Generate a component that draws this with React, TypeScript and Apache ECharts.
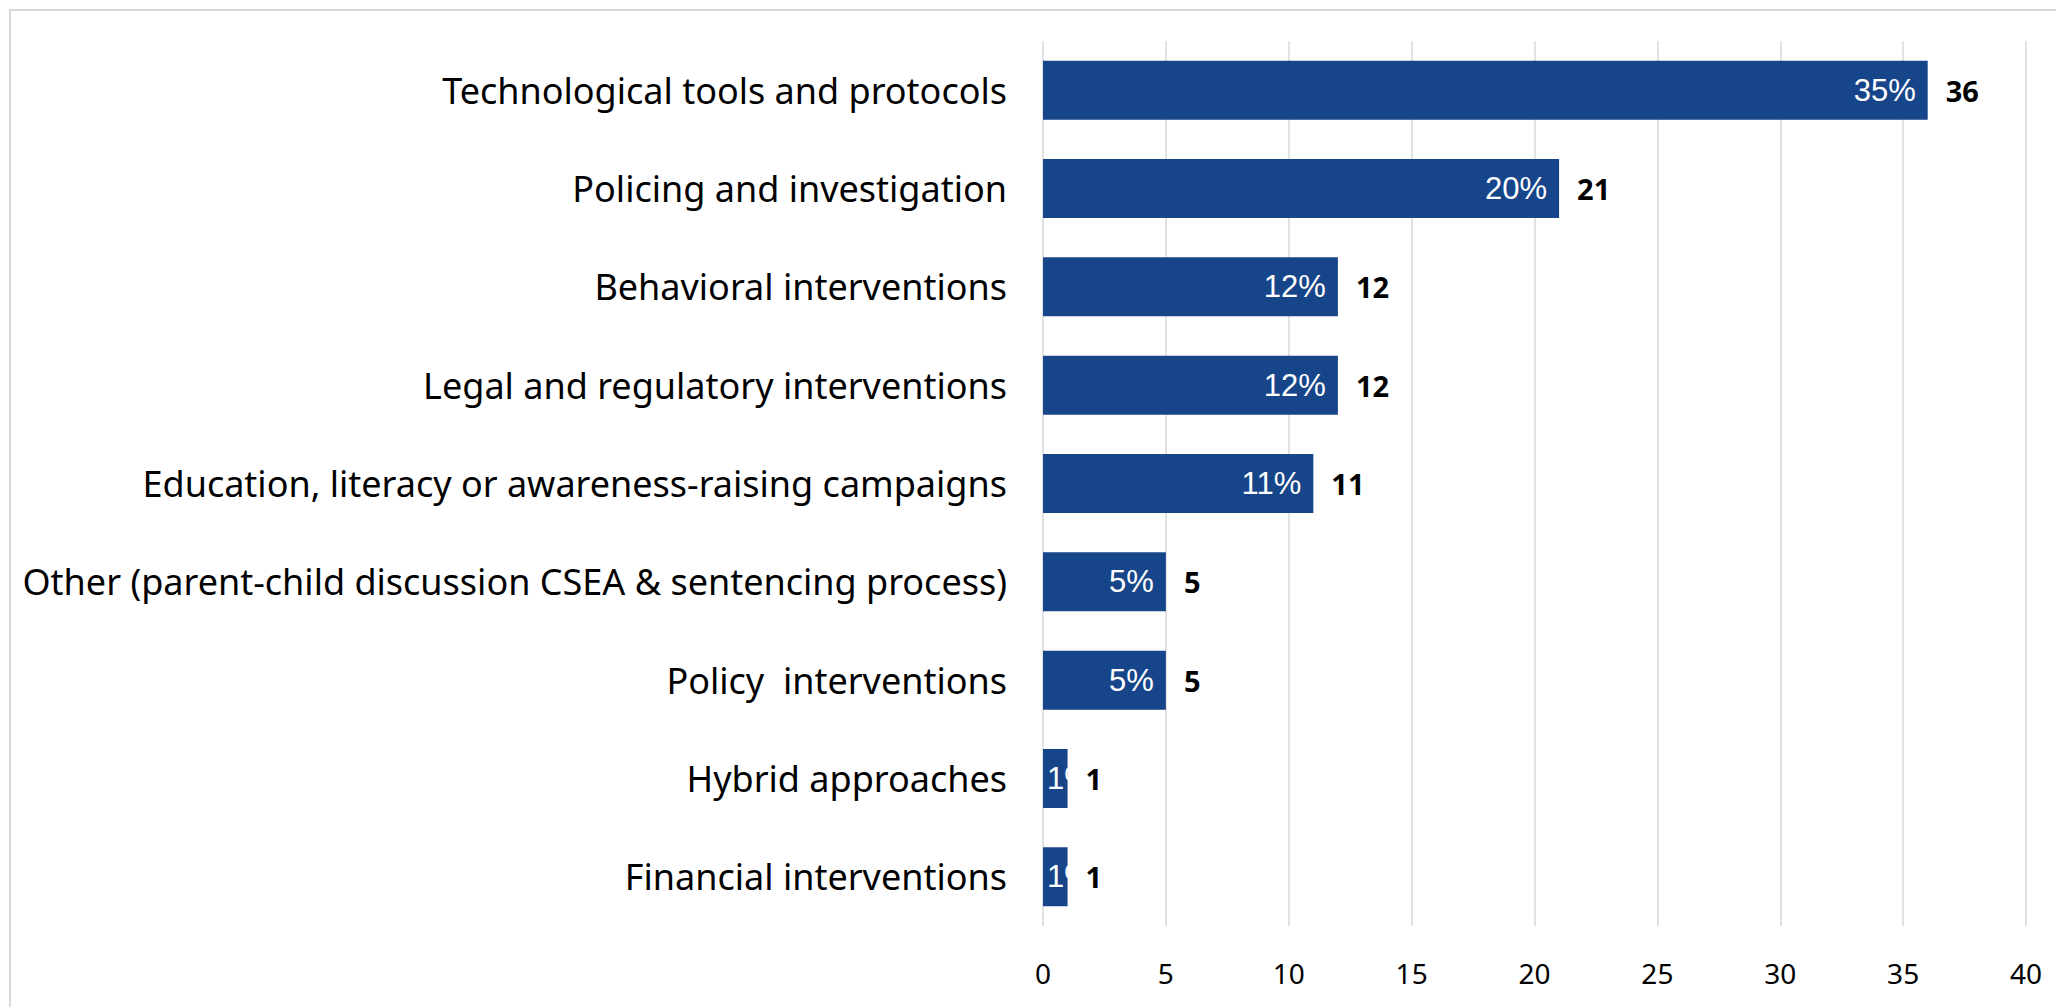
import React, { useEffect, useRef } from "react";
import * as echarts from "echarts";

const categories = [
  "Technological tools and protocols",
  "Policing and investigation",
  "Behavioral interventions",
  "Legal and regulatory interventions",
  "Education, literacy or awareness-raising campaigns",
  "Other (parent-child discussion CSEA & sentencing process)",
  "Policy  interventions",
  "Hybrid approaches",
  "Financial interventions",
];
const counts = [36, 21, 12, 12, 11, 5, 5, 1, 1];
const percents = [35, 20, 12, 12, 11, 5, 5, 1, 1];
const xTicks = [0, 5, 10, 15, 20, 25, 30, 35, 40];

const BAR = "#17458A";
const GRID = "#D9D9D9";
const FONT = "Noto Sans";

export default function App() {
  const ref = useRef<HTMLDivElement>(null);
  useEffect(() => {
    document.body.style.margin = "0";
    const chart = echarts.init(ref.current!, null, { renderer: "svg" });
    chart.setOption({
      animation: false,
      backgroundColor: "#ffffff",
      graphic: [
        {
          type: "rect",
          shape: { x: 10, y: 10, width: 2200, height: 1200 },
          style: { fill: "none", stroke: GRID, lineWidth: 2 },
          silent: true,
        },
      ],
      grid: { left: 1043, right: 30, top: 41, bottom: 81, containLabel: false },
      xAxis: {
        type: "value",
        min: xTicks[0],
        max: xTicks[xTicks.length - 1],
        interval: 5,
        axisLine: { show: false },
        axisTick: { show: false },
        splitLine: { show: true, lineStyle: { color: GRID, width: 1.5 } },
        axisLabel: {
          color: "#000",
          fontFamily: FONT,
          fontSize: 28,
          margin: 33,
        },
      },
      yAxis: {
        type: "category",
        data: categories,
        inverse: true,
        axisLine: { show: false },
        axisTick: { show: false },
        axisLabel: {
          color: "#000",
          fontFamily: FONT,
          fontSize: 36,
          margin: 36,
        },
      },
      series: [
        {
          type: "bar",
          data: percents.map((p, i) => ({
            value: counts[i],
            label:
              counts[i] < 3
                ? { position: "insideLeft", distance: 4 }
                : undefined,
          })),
          barWidth: "60%",
          barGap: "-100%",
          itemStyle: { color: BAR },
          label: {
            show: true,
            position: "insideRight",
            distance: 12,
            color: "#fff",
            fontFamily: "Liberation Sans",
            fontSize: 31,
            formatter: (p: any) => percents[p.dataIndex] + "%",
          },
          z: 2,
        },
        {
          type: "bar",
          data: counts,
          barWidth: "60%",
          barGap: "-100%",
          itemStyle: { color: "rgba(0,0,0,0)" },
          label: {
            show: true,
            position: "right",
            distance: 18,
            color: "#000",
            fontFamily: FONT,
            fontWeight: "bold",
            fontSize: 29,
          },
          z: 3,
        },
      ],
    });
    return () => chart.dispose();
  }, []);
  return <div ref={ref} style={{ width: 2056, height: 1007 }} />;
}
